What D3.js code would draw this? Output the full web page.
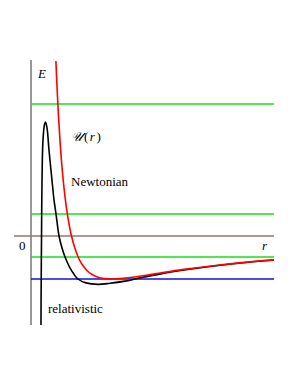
<!DOCTYPE html>
<html>
<head>
<meta charset="utf-8">
<script src="https://cdn.jsdelivr.net/npm/d3@7"></script>
<style>
  html, body { margin: 0; padding: 0; background: #fff; }
  svg { display: block; }
</style>
</head>
<body>
<div id="chart"></div>
<script>
// radius in units of the Newtonian minimum, energy in units of |U_min|
const newtonR = [0.3075, 0.32, 0.34, 0.36, 0.38, 0.40, 0.43, 0.46, 0.50, 0.55, 0.60, 0.65, 0.70, 0.75, 0.80, 0.90, 1.0, 1.1, 1.2, 1.4, 1.6, 1.8, 2.0, 2.3, 2.6, 3.0];
const newtonU = [4.07, 3.52, 2.77, 2.16, 1.66, 1.25, 0.76, 0.38, 0.0, -0.33, -0.56, -0.71, -0.82, -0.89, -0.94, -0.99, -1.0, -0.99, -0.97, -0.92, -0.86, -0.80, -0.75, -0.68, -0.62, -0.556];

const relR = [0.123, 0.126, 0.130, 0.136, 0.148, 0.167, 0.179, 0.198, 0.222, 0.259, 0.284, 0.309, 0.346, 0.383, 0.420, 0.481, 0.580, 0.679, 0.827, 0.975, 1.16, 1.31, 1.6, 2.0, 2.5, 3.0];
const relU = [-2.07, -1.02, 0.0, 1.30, 2.23, 2.60, 2.65, 2.51, 2.0, 1.30, 0.84, 0.51, 0.0, -0.28, -0.49, -0.74, -1.0, -1.09, -1.125, -1.10, -1.05, -0.99, -0.88, -0.762, -0.646, -0.559];

const greenLevels = [3.07, 0.51, -0.49];
const blueLevel = -1.0;

const width = 298, height = 385;
const svg = d3.select("#chart").append("svg")
  .attr("width", width).attr("height", height)
  .attr("font-family", "'Liberation Serif', 'Times New Roman', serif");

const x = d3.scaleLinear().domain([0, 3]).range([31, 274]);
const y = d3.scaleLinear().domain([0, 1]).range([236, 193]);

// vertical axis
svg.append("line")
  .attr("x1", x(0)).attr("x2", x(0))
  .attr("y1", 60).attr("y2", 325)
  .attr("stroke", "#333").attr("stroke-width", 1);

// energy levels
svg.selectAll("line.green").data(greenLevels).enter().append("line")
  .attr("class", "green")
  .attr("x1", x(0)).attr("x2", x(3))
  .attr("y1", d => y(d)).attr("y2", d => y(d))
  .attr("stroke", "#14e014").attr("stroke-width", 1.5);

svg.append("line")
  .attr("x1", x(0)).attr("x2", x(3))
  .attr("y1", y(blueLevel)).attr("y2", y(blueLevel))
  .attr("stroke", "#0f0fe6").attr("stroke-width", 1.5);

// r axis
svg.append("line")
  .attr("x1", 14).attr("x2", x(3))
  .attr("y1", y(0)).attr("y2", y(0))
  .attr("stroke", "#927670").attr("stroke-width", 1.4);

const line = d3.line()
  .x(d => x(d[0])).y(d => y(d[1]))
  .curve(d3.curveCatmullRom.alpha(0.5));

svg.append("path")
  .datum(d3.zip(relR, relU))
  .attr("d", line)
  .attr("fill", "none").attr("stroke", "#000").attr("stroke-width", 1.6);

svg.append("path")
  .datum(d3.zip(newtonR, newtonU))
  .attr("d", line)
  .attr("fill", "none").attr("stroke", "#f00").attr("stroke-width", 1.6);

// labels
svg.append("text").attr("x", 38).attr("y", 78)
  .attr("font-size", 13).attr("font-style", "italic").text("E");
svg.append("text").attr("x", 19).attr("y", 250)
  .attr("font-size", 13).text("0");
svg.append("text").attr("x", 262).attr("y", 250)
  .attr("font-size", 13).attr("font-style", "italic").text("r");

const u = svg.append("text").attr("x", 71).attr("y", 141).attr("font-size", 13);
u.append("tspan").attr("font-style", "italic").text("\u{1D4B0}");
u.append("tspan").attr("dx", 1).text("(");
u.append("tspan").attr("dx", 1.5).attr("font-style", "italic").text("r");
u.append("tspan").attr("dx", 1.5).text(")");

svg.append("text").attr("x", 71).attr("y", 186)
  .attr("font-size", 13).text("Newtonian");
svg.append("text").attr("x", 48).attr("y", 313)
  .attr("font-size", 13).text("relativistic");
</script>
</body>
</html>
